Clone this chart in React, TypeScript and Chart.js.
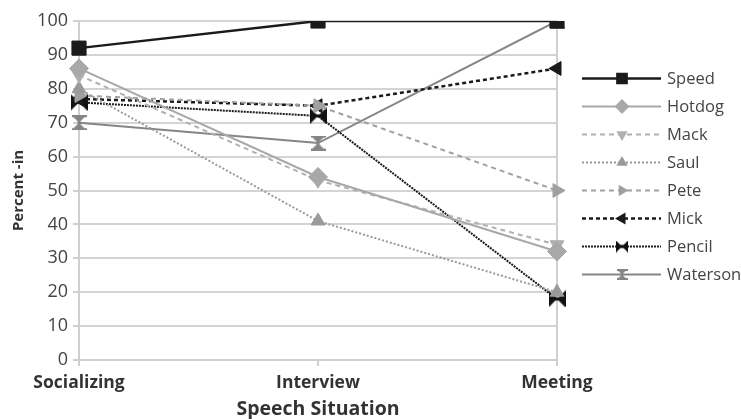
import React, { useEffect, useRef } from "react";
import { Chart, registerables } from "chart.js";
import { drawPoint } from "chart.js/helpers";

Chart.register(...registerables);

const categories = ["Socializing", "Interview", "Meeting"];
const seriesNames = ["Speed", "Hotdog", "Mack", "Saul", "Pete", "Mick", "Pencil", "Waterson"];
const speed = [92, 100, 100];
const hotdog = [86, 54, 32];
const mack = [84, 53, 34];
const saul = [80, 41, 20];
const pete = [78, 75, 50];
const mick = [77, 75, 86];
const pencil = [76, 72, 18];
const waterson = [70, 64, 100];
const yTicks = [0, 10, 20, 30, 40, 50, 60, 70, 80, 90, 100];

const FONT = "'Open Sans', 'Noto Sans', sans-serif";

function makeBowtie(color: string, size: number) {
  const c = document.createElement("canvas");
  c.width = size;
  c.height = size;
  const ctx = c.getContext("2d")!;
  ctx.fillStyle = color;
  ctx.beginPath();
  ctx.moveTo(0, 0);
  ctx.lineTo(size / 2, size / 2);
  ctx.lineTo(0, size);
  ctx.closePath();
  ctx.fill();
  ctx.beginPath();
  ctx.moveTo(size, 0);
  ctx.lineTo(size / 2, size / 2);
  ctx.lineTo(size, size);
  ctx.closePath();
  ctx.fill();
  ctx.fillRect(0, size / 2 - 1.5, size, 3);
  return c;
}

function makeHourglass(color: string, size: number) {
  const c = document.createElement("canvas");
  c.width = size;
  c.height = size;
  const ctx = c.getContext("2d")!;
  ctx.fillStyle = color;
  ctx.fillRect(0, 0, size, 2);
  ctx.fillRect(0, size - 2, size, 2);
  ctx.beginPath();
  ctx.moveTo(1, 1);
  ctx.lineTo(size - 1, 1);
  ctx.lineTo(size / 2, size / 2);
  ctx.closePath();
  ctx.fill();
  ctx.beginPath();
  ctx.moveTo(1, size - 1);
  ctx.lineTo(size - 1, size - 1);
  ctx.lineTo(size / 2, size / 2);
  ctx.closePath();
  ctx.fill();
  ctx.fillRect(size / 2 - 1.5, 0, 3, size);
  return c;
}

const legendPlugin = {
  id: "sideLegend",
  afterDraw(chart: any) {
    const ctx = chart.ctx;
    const x0 = 582;
    const x1 = 661;
    const xm = 622;
    chart.data.datasets.forEach((ds: any, i: number) => {
      const y = 78.5 + i * 28;
      ctx.save();
      ctx.strokeStyle = ds.borderColor;
      ctx.lineWidth = ds.borderWidth;
      ctx.setLineDash(ds.borderDash || []);
      ctx.beginPath();
      ctx.moveTo(x0, y);
      ctx.lineTo(x1, y);
      ctx.stroke();
      ctx.setLineDash([]);
      ctx.fillStyle = ds.borderColor;
      ctx.strokeStyle = ds.borderColor;
      const ps = ds.legendPoint || ds.pointStyle;
      drawPoint(ctx, {
        pointStyle: ps,
        rotation: ds.pointRotation || 0,
        radius: Math.max(3, ds.pointRadius - 3.5),
        borderWidth: 1,
      } as any, xm, y);
      ctx.fillStyle = "#444";
      ctx.font = `16.5px ${FONT}`;
      ctx.textBaseline = "middle";
      ctx.textAlign = "left";
      ctx.fillText(ds.label, 667, y + 1);
      ctx.restore();
    });
  },
};

export default function App() {
  const ref = useRef<HTMLCanvasElement>(null);
  useEffect(() => {
    document.body.style.margin = "0";
    const bowtie = makeBowtie("#111", 17);
    const bowtieSmall = makeBowtie("#111", 12);
    const hourglass = makeHourglass("#858585", 15);
    const hourglassSmall = makeHourglass("#858585", 11);

    const mk = (label: string, data: number[], color: string, width: number, dash: number[], pointStyle: any, radius: number, rotation = 0, legendPoint: any = null) => ({
      label,
      data,
      borderColor: color,
      backgroundColor: color,
      borderWidth: width,
      borderDash: dash,
      pointStyle,
      pointRadius: radius,
      pointRotation: rotation,
      pointBorderWidth: 1,
      pointBorderColor: color,
      pointBackgroundColor: color,
      tension: 0,
      legendPoint,
    });

    const datasets = [
      mk(seriesNames[0], speed, "#1a1a1a", 2.5, [], "rect", 10),
      mk(seriesNames[1], hotdog, "#a8a8a8", 2, [], "rectRot", 9.5),
      mk(seriesNames[2], mack, "#b0b0b0", 2, [5, 4], "triangle", 8, 180),
      mk(seriesNames[3], saul, "#9a9a9a", 2, [2, 2], "triangle", 8),
      mk(seriesNames[4], pete, "#a0a0a0", 2, [5, 4], "triangle", 8, 90),
      mk(seriesNames[5], mick, "#1a1a1a", 2.5, [4, 3], "triangle", 8, -90),
      mk(seriesNames[6], pencil, "#1a1a1a", 2, [2, 1], bowtie, 9, 0, bowtieSmall),
      mk(seriesNames[7], waterson, "#858585", 2, [], hourglass, 8, 0, hourglassSmall),
    ];

    const chart = new Chart(ref.current!, {
      type: "line",
      data: { labels: categories, datasets: datasets as any },
      options: {
        animation: false,
        responsive: false,
        layout: { padding: { top: 21, right: 184, left: 6, bottom: 0 } },
        plugins: {
          legend: { display: false },
          tooltip: { enabled: false },
        },
        scales: {
          x: {
            offset: false,
            afterFit: (axis: any) => {
              axis.height = 59;
            },
            grid: {
              color: (c: any) => (c.index === 2 ? "#cfcfcf" : "rgba(0,0,0,0)"),
              lineWidth: 2,
              tickColor: "#cfcfcf",
              tickLength: 6,
              drawOnChartArea: true,
            },
            border: { color: "#cfcfcf", width: 2 },
            ticks: { color: "#333", font: { family: FONT, size: 17.5, weight: "bold" }, padding: 7, maxRotation: 0 },
            title: { display: true, text: "Speech Situation", color: "#333", font: { family: FONT, size: 19.5, weight: "bold" }, padding: { top: 0, bottom: -2 } },
          },
          y: {
            min: 0,
            max: 100,
            afterFit: (axis: any) => {
              axis.width = 73;
            },
            afterBuildTicks: (axis: any) => {
              axis.ticks = yTicks.map((v) => ({ value: v }));
            },
            grid: { color: "#d4d4d4", lineWidth: 2, tickColor: "#cfcfcf", tickLength: 6 },
            border: { color: "#cfcfcf", width: 2 },
            ticks: { color: "#444", font: { family: FONT, size: 18 }, padding: 5 },
            title: { display: true, text: "Percent -in", color: "#333", font: { family: FONT, size: 15, weight: "bold" }, padding: { bottom: 8 } },
          },
        },
      } as any,
      plugins: [legendPlugin],
    });
    return () => chart.destroy();
  }, []);
  return (
    <div style={{ position: "absolute", left: 0, top: 0, width: 741, height: 419, background: "#fff" }}>
      <canvas ref={ref} width={741} height={419} />
    </div>
  );
}
